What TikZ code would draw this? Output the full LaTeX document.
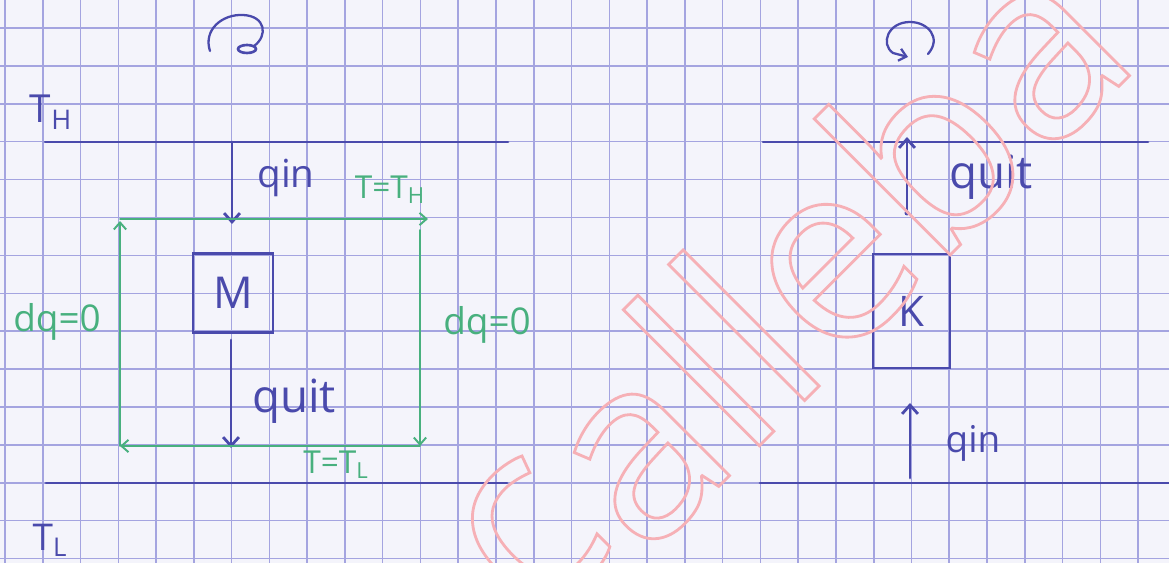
\documentclass[tikz,border=0pt]{standalone}
\usepackage{fontspec}
\setmainfont{Open Sans}
\newfontfamily\markfont{Open Sans}
\usetikzlibrary{arrows.meta}

\definecolor{paper}{RGB}{244,244,251}
\definecolor{gridc}{RGB}{164,164,224}
\definecolor{inkblue}{RGB}{74,74,172}
\definecolor{grnpen}{RGB}{72,176,126}
\definecolor{wmred}{RGB}{246,176,182}

% outlined (stroked, unfilled) glyphs
\newcommand\strokedtext[1]{\special{pdf:literal direct 1 Tr 1.6 w}#1\special{pdf:literal direct 0 Tr 0.4 w}}

\tikzset{
  gridline/.style={draw=gridc, line width=0.9pt},
  ink/.style={draw=inkblue, line width=1.6pt, line cap=round},
  inkarrow/.style={ink, -{Straight Barb[length=5pt,width=9pt]}},
  cyc/.style={draw=grnpen, line width=1.1pt, line cap=round, -{Straight Barb[length=4pt,width=7pt]}},
  lbl/.style={text=inkblue, inner sep=0pt},
  glbl/.style={text=grnpen, inner sep=0pt},
  bodybox/.style={draw=inkblue, line width=1.6pt, inner sep=0pt, text=inkblue},
  wm/.style={inner sep=0pt, text=wmred, font=\markfont\fontsize{144}{144}\selectfont}
}

\begin{document}
\begin{tikzpicture}[x=0.02cm,y=-0.02cm]
  % paper and squared ruling
  \useasboundingbox (0,0) rectangle (1169,563);
  \fill[paper] (0,0) rectangle (1169,563);
  \foreach \i in {0,...,30} \draw[gridline] ({5+37.77*\i},0) -- ++(0,563);
  \foreach \j in {0,...,14} \draw[gridline] (0,{28+37.9*\j}) -- ++(1169,0);

  % ---------------- heat engine (left) ----------------
  % sense of rotation
  \draw[ink, line width=1.3pt] (210,51) .. controls (203,30) and (222,14) .. (243,15)
        .. controls (266,16) and (268,36) .. (254,46);
  \draw[ink, line width=1.5pt] (247,49) ellipse [x radius=9, y radius=4];

  % reservoirs
  \node[lbl, font=\fontsize{22}{22}\selectfont] (thl) at (51,112) {T\textsubscript{H}};
  \coordinate (hotA) at (45,142);  \coordinate (hotB) at (508,142);
  \draw[ink] (hotA) -- (hotB);
  \node[lbl, font=\fontsize{21}{21}\selectfont] (tll) at (50,540) {T\textsubscript{L}};
  \coordinate (coldA) at (46,483); \coordinate (coldB) at (507,483);
  \draw[ink] (coldA) -- (coldB);

  % machine
  \node[bodybox, minimum width=1.6cm, minimum height=1.58cm,
        font=\fontsize{25}{25}\selectfont] (M) at (233,293) {M};

  % heat flows
  \coordinate (qinA) at (232,142); \coordinate (qinB) at (232,224);
  \draw[inkarrow] (qinA) -- (qinB);
  \node[lbl, font=\fontsize{22}{22}\selectfont] (qinl) at (286,178) {qin};
  \coordinate (quitA) at (231,340); \coordinate (quitB) at (231,448);
  \draw[inkarrow] (quitA) -- (quitB);
  \node[lbl, font=\fontsize{26}{26}\selectfont] (quitl) at (294,401) {quit};

  % Carnot cycle
  \coordinate (c1) at (120,219); \coordinate (c2) at (420,219);
  \coordinate (c3) at (420,446); \coordinate (c4) at (120,446);
  \coordinate (c2t) at (428,219); \coordinate (c2b) at (420,230);
  \coordinate (c1t) at (120,221);
  \draw[cyc] (c1) -- (c2t);
  \draw[cyc] (c2b) -- (c3);
  \draw[cyc] (c3) -- (c4);
  \draw[cyc] (c4) -- (c1t);
  \node[glbl, font=\fontsize{18}{18}\selectfont] (tth) at (390,190) {T=T\textsubscript{H}};
  \node[glbl, font=\fontsize{18}{18}\selectfont] (ttl) at (336,465) {T=T\textsubscript{L}};
  \node[glbl, font=\fontsize{21}{21}\selectfont] (dql) at (57,322) {dq=0};
  \node[glbl, font=\fontsize{21}{21}\selectfont] (dqr) at (487,325) {dq=0};

  % ---------------- refrigerator (right) ----------------
  \draw[ink, line width=1.3pt, -{Straight Barb[length=4pt,width=7pt]}]
        (928,54) .. controls (942,38) and (928,22) .. (910,22)
        .. controls (888,22) and (880,44) .. (893,53) -- (908,57);

  \coordinate (hotC) at (763,142); \coordinate (hotD) at (1148,142);
  \draw[ink] (hotC) -- (hotD);
  \coordinate (coldC) at (760,483); \coordinate (coldD) at (1169,483);
  \draw[ink] (coldC) -- (coldD);

  \node[bodybox, minimum width=1.54cm, minimum height=2.28cm,
        font=\fontsize{24}{24}\selectfont] (K) at (911.5,311) {K};

  \coordinate (routA) at (907,213); \coordinate (routB) at (907,137);
  \draw[inkarrow] (routA) -- (routB);
  \fill[inkblue] (routA) circle [radius=2.5];
  \node[lbl, font=\fontsize{26}{26}\selectfont] (quitr) at (991,177) {quit};
  \coordinate (rinA) at (910,478); \coordinate (rinB) at (910,403);
  \draw[inkarrow] (rinA) -- (rinB);
  \node[lbl, font=\fontsize{21}{21}\selectfont] (qinr) at (973,443) {qin};

  % ---------------- stamp across the sheet ----------------
  \begin{scope}
    \clip (0,0) rectangle (1169,563);
    \node[wm, anchor=base west, rotate=45] (stampc) at (535,628) {\strokedtext{c}};
    \node[wm, anchor=base west, rotate=45] (stamp) at (559,646) {\strokedtext{\phantom{c}alleba}};
  \end{scope}
\end{tikzpicture}
\end{document}
